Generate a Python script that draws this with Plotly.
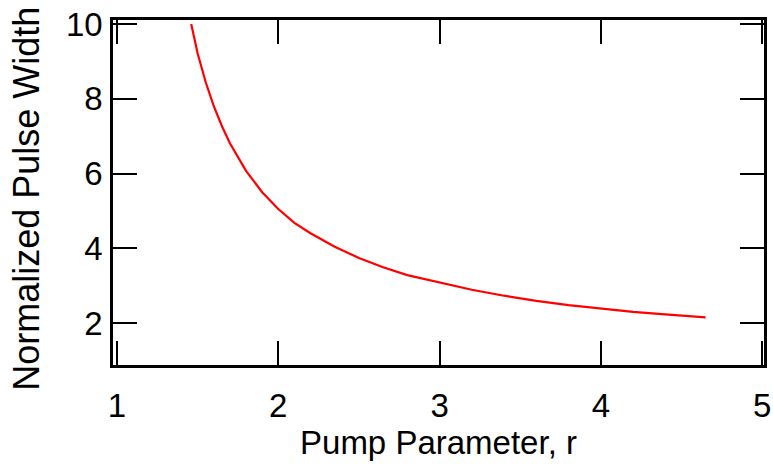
import plotly.graph_objects as go

pump_r = [1.46, 1.50, 1.55, 1.60, 1.65, 1.70, 1.80, 1.90, 2.00, 2.10, 2.20, 2.35,
          2.50, 2.65, 2.80, 3.00, 3.20, 3.40, 3.60, 3.80, 4.00, 4.20, 4.40, 4.65]
pulse_width = [10.0, 9.21, 8.44, 7.80, 7.27, 6.81, 6.07, 5.50, 5.05, 4.68, 4.40, 4.04,
               3.74, 3.49, 3.28, 3.08, 2.89, 2.73, 2.59, 2.48, 2.38, 2.30, 2.23, 2.15]

x_ticks = [1, 2, 3, 4, 5]
y_ticks = [2, 4, 6, 8, 10]

fig = go.Figure()
fig.add_trace(go.Scatter(x=pump_r, y=pulse_width, mode="lines",
                         line=dict(color="#ff0000", width=2.2),
                         showlegend=False))

family = "Liberation Sans, Arial, sans-serif"
tick_font = dict(family=family, size=33, color="black")
axis_common = dict(showgrid=False, zeroline=False, showline=True, linecolor="black",
                   linewidth=2.5, mirror="ticks", ticks="inside", ticklen=24,
                   tickwidth=2, tickcolor="black", tickfont=tick_font, automargin=False,
                   ticklabeloverflow="allow")

fig.update_layout(
    width=773, height=468,
    margin=dict(l=113, r=9, t=20, b=103),
    paper_bgcolor="white", plot_bgcolor="white",
    font=tick_font,
    xaxis=dict(range=[0.975, 5.012], tickvals=x_ticks, ticklabelstandoff=10,
               title=dict(text="Pump Parameter, r",
                          font=dict(family=family, size=33, color="black"), standoff=4),
               **axis_common),
    yaxis=dict(range=[0.876, 10.107], tickvals=y_ticks, ticklabelstandoff=1,
               **axis_common),
    annotations=[dict(text="Normalized Pulse Width", textangle=-90,
                      xref="paper", yref="paper", x=-0.134, y=0.481,
                      xanchor="center", yanchor="middle", showarrow=False,
                      font=dict(family=family, size=36, color="black"))],
)

# remove the browser's default 8px body margin so the figure sits at the window origin
fig.write_html("out.html", config={"displayModeBar": False},
               post_script="document.body.style.margin='0';")
